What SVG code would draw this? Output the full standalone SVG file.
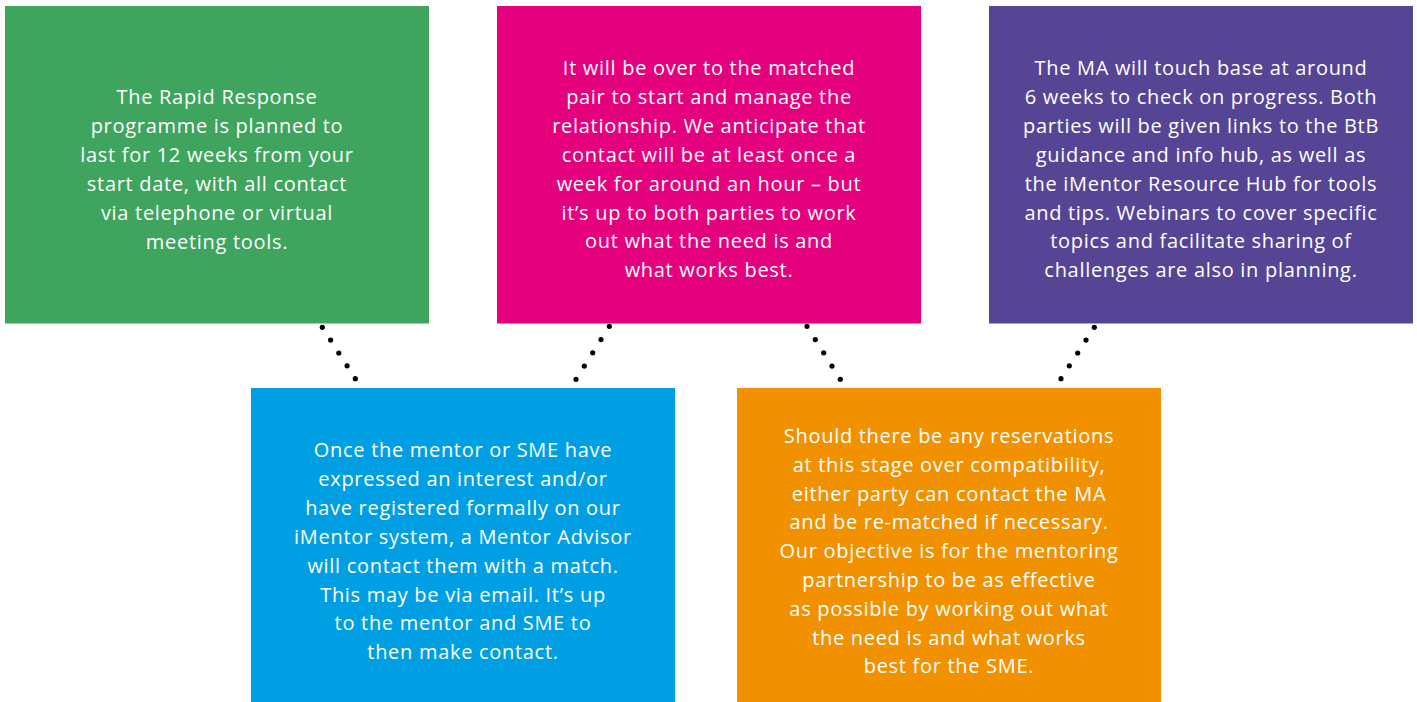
<svg xmlns="http://www.w3.org/2000/svg" width="1417" height="702" viewBox="0 0 1417 702">
<style>
.t{font-family:"Open Sans","Liberation Sans",sans-serif;font-size:20px;letter-spacing:0.7px;fill:#ffffff;text-anchor:middle}
.c circle{fill:#000000}
</style>
<rect width="1417" height="702" fill="#ffffff"/>
<g id="connectors" class="c">
<g id="c1"><circle cx="322.3" cy="327.3" r="2.6"/><circle cx="330.6" cy="340.1" r="2.6"/><circle cx="338.8" cy="353" r="2.6"/><circle cx="347.1" cy="365.8" r="2.6"/><circle cx="355.3" cy="378.7" r="2.6"/></g>
<g id="c2"><circle cx="609.3" cy="326.3" r="2.6"/><circle cx="601" cy="339.6" r="2.6"/><circle cx="592.7" cy="352.8" r="2.6"/><circle cx="584.3" cy="366.1" r="2.6"/><circle cx="576" cy="379.3" r="2.6"/></g>
<g id="c3"><circle cx="807" cy="326.3" r="2.6"/><circle cx="815.3" cy="339.6" r="2.6"/><circle cx="823.7" cy="352.8" r="2.6"/><circle cx="832" cy="366.1" r="2.6"/><circle cx="840.3" cy="379.3" r="2.6"/></g>
<g id="c4"><circle cx="1094.3" cy="327.3" r="2.6"/><circle cx="1086" cy="340.1" r="2.6"/><circle cx="1077.7" cy="353" r="2.6"/><circle cx="1069.3" cy="365.8" r="2.6"/><circle cx="1061" cy="378.7" r="2.6"/></g>
</g>
<g id="node-green">
<rect x="5" y="6" width="424" height="317.5" fill="#3ea45e"/>
<text class="t" x="217" y="104"><tspan x="217">The Rapid Response</tspan><tspan x="217" dy="28.9">programme is planned to</tspan><tspan x="217" dy="28.9">last for 12 weeks from your</tspan><tspan x="217" dy="28.9">start date, with all contact</tspan><tspan x="217" dy="28.9">via telephone or virtual</tspan><tspan x="217" dy="28.9">meeting tools.</tspan></text>
</g>
<g id="node-pink">
<rect x="497" y="6" width="424" height="317.5" fill="#e5007d"/>
<text class="t" x="709" y="75"><tspan x="709">It will be over to the matched</tspan><tspan x="709" dy="28.9">pair to start and manage the</tspan><tspan x="709" dy="28.9">relationship. We anticipate that</tspan><tspan x="709" dy="28.9">contact will be at least once a</tspan><tspan x="709" dy="28.9">week for around an hour – but</tspan><tspan x="709" dy="28.9">it’s up to both parties to work</tspan><tspan x="709" dy="28.9">out what the need is and</tspan><tspan x="709" dy="28.9">what works best.</tspan></text>
</g>
<g id="node-purple">
<rect x="989" y="6" width="424" height="317.5" fill="#564594"/>
<text class="t" x="1201" y="75"><tspan x="1201">The MA will touch base at around</tspan><tspan x="1201" dy="28.9">6 weeks to check on progress. Both</tspan><tspan x="1201" dy="28.9">parties will be given links to the BtB</tspan><tspan x="1201" dy="28.9">guidance and info hub, as well as</tspan><tspan x="1201" dy="28.9">the iMentor Resource Hub for tools</tspan><tspan x="1201" dy="28.9">and tips. Webinars to cover specific</tspan><tspan x="1201" dy="28.9">topics and facilitate sharing of</tspan><tspan x="1201" dy="28.9">challenges are also in planning.</tspan></text>
</g>
<g id="node-blue">
<rect x="251" y="388" width="424" height="314" fill="#009fe3"/>
<text class="t" x="463" y="457"><tspan x="463">Once the mentor or SME have</tspan><tspan x="463" dy="28.9">expressed an interest and/or</tspan><tspan x="463" dy="28.9">have registered formally on our</tspan><tspan x="463" dy="28.9">iMentor system, a Mentor Advisor</tspan><tspan x="463" dy="28.9">will contact them with a match.</tspan><tspan x="463" dy="28.9">This may be via email. It’s up</tspan><tspan x="463" dy="28.9">to the mentor and SME to</tspan><tspan x="463" dy="28.9">then make contact.</tspan></text>
</g>
<g id="node-orange">
<rect x="737" y="388" width="424" height="314" fill="#f29100"/>
<text class="t" x="949" y="443"><tspan x="949">Should there be any reservations</tspan><tspan x="949" dy="28.8">at this stage over compatibility,</tspan><tspan x="949" dy="28.8">either party can contact the MA</tspan><tspan x="949" dy="28.8">and be re-matched if necessary.</tspan><tspan x="949" dy="28.8">Our objective is for the mentoring</tspan><tspan x="949" dy="28.8">partnership to be as effective</tspan><tspan x="949" dy="28.8">as possible by working out what</tspan><tspan x="949" dy="28.8">the need is and what works</tspan><tspan x="949" dy="28.8">best for the SME.</tspan></text>
</g>
</svg>
